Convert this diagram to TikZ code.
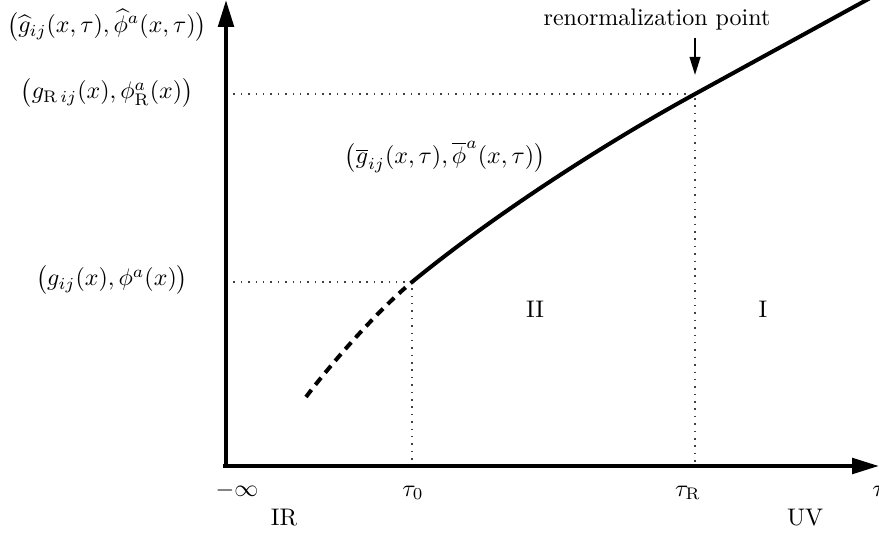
\documentclass[tikz,border=0pt]{standalone}
\usepackage{amsmath}
\usetikzlibrary{arrows.meta}
\begin{document}
\begin{tikzpicture}[x=0.4167pt,y=-0.4167pt,
  axis/.style={line width=1.67pt,-{Triangle[length=11.25pt,width=6.45pt]}},
  curvebold/.style={line width=1.67pt},
  curvedash/.style={line width=1.67pt,dash pattern=on 3.75pt off 2.7pt},
  guide/.style={line width=0.47pt,black!75,dash pattern=on 0.62pt off 2.46pt},
  pointer/.style={line width=0.83pt,-{Triangle[length=7.5pt,width=4.4pt]}},
  lbl/.style={inner sep=0pt}]
\useasboundingbox (0,0) rectangle (879,535);
% axes
\coordinate (Ox) at (223,466);
\coordinate (Oy) at (226,468);
\coordinate (xend) at (879,466);
\coordinate (yend) at (226,0);
% curve points
\coordinate (c0) at (306,397);
\coordinate (t0pt) at (412,282);
\coordinate (tRpt) at (695,94);
\coordinate (cend) at (872,-3);
% guides
\coordinate (t0axis) at (412,466);
\coordinate (tRaxis) at (695,466);
\coordinate (t0y) at (226,282);
\coordinate (tRy) at (226,94);
\draw[guide] (t0y) -- (t0pt) -- (t0axis);
\draw[guide] (tRy) -- (tRpt) -- (tRaxis);
% curve
\draw[curvedash] (c0) .. controls (330,365) and (377,311) .. (t0pt);
\draw[curvebold] (t0pt) .. controls (490,218) and (600,146) .. (tRpt) -- (cend);
% axes on top
\draw[axis] (Ox) -- (xend);
\draw[axis] (Oy) -- (yend);
% renormalization arrow
\node[lbl] (rp) at (657,20) {renormalization point};
\coordinate (rpstart) at (695,38);
\coordinate (rpend) at (695,75);
\draw[pointer] (rpstart) -- (rpend);
% y labels
\node[lbl] (lhat) at (107,25) {$\bigl(\widehat{g}_{ij}(x,\tau),\widehat{\phi}^a(x,\tau)\bigr)$};
\node[lbl] (lR) at (107,93) {$\bigl(g_{\mathrm{R}\,ij}(x),\phi^a_{\mathrm{R}}(x)\bigr)$};
\node[lbl] (lg) at (112,280) {$\bigl(g_{ij}(x),\phi^a(x)\bigr)$};
\node[lbl] (lbar) at (445,157) {$\bigl(\overline{g}_{ij}(x,\tau),\overline{\phi}^a(x,\tau)\bigr)$};
% regions
\node[lbl] (II) at (535,309) {II};
\node[lbl] (I) at (763,309) {I};
% x labels
\node[lbl,anchor=base] (minf) at (237,496) {$-\infty$};
\node[lbl,anchor=base] (tau0) at (413,496) {$\tau_0$};
\node[lbl,anchor=base] (tauR) at (688,496) {$\tau_{\mathrm{R}}$};
\node[lbl,anchor=base] (tau) at (879,496) {$\tau$};
\node[lbl,anchor=base] (IR) at (284,525) {IR};
\node[lbl,anchor=base] (UV) at (805,525) {UV};
\end{tikzpicture}
\end{document}
